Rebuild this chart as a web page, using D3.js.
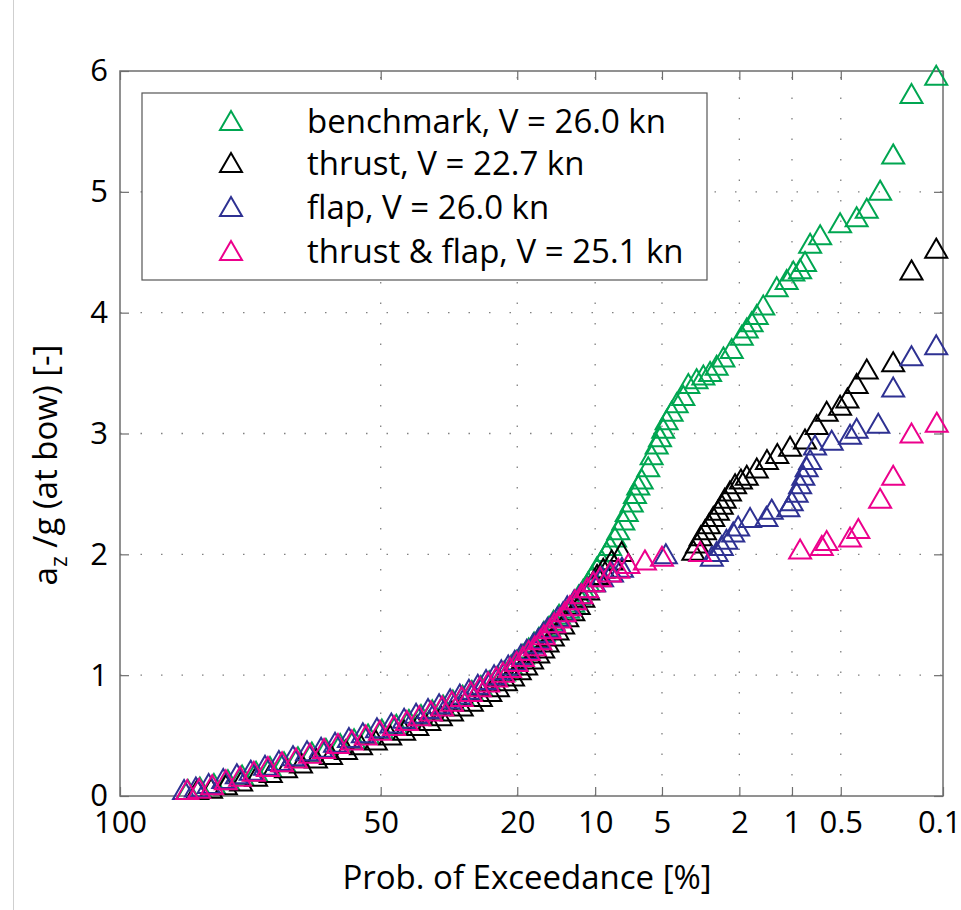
<!DOCTYPE html>
<html><head><meta charset="utf-8">
<script src="https://cdn.jsdelivr.net/npm/d3@7"></script>
<style>
body{margin:0;background:#fff;}
svg{display:block;}
text{font-family:"Open Sans",sans-serif;fill:#000;}
</style>
</head><body>
<svg id="c" width="961" height="910"></svg>
<script>
// ---------- data ----------
const probTicks = [100, 50, 20, 10, 5, 2, 1, 0.5, 0.1];
const probLabels = ["100", "50", "20", "10", "5", "2", "1", "0.5", "0.1"];
const yTicks = [0, 1, 2, 3, 4, 5, 6];
const seriesNames = ["benchmark, V = 26.0 kn", "thrust, V = 22.7 kn", "flap, V = 26.0 kn", "thrust & flap, V = 25.1 kn"];
const seriesColors = ["#00a651", "#000000", "#2e3192", "#ec008c"];

// [exceedance probability %, a_z/g]
const benchmark = [
 [95.4,0.05],[93.7,0.07],[91.4,0.10],[88.8,0.13],[85.9,0.17],[82.8,0.20],[79.5,0.24],[76.0,0.28],[72.4,0.32],[68.7,0.36],
 [64.9,0.39],[61.0,0.43],[57.2,0.47],[53.4,0.51],[49.7,0.55],[45.9,0.59],[42.7,0.63],[39.7,0.67],[37.0,0.71],[34.5,0.75],
 [32.3,0.79],[30.2,0.83],[28.3,0.87],[26.5,0.91],[24.9,0.95],[23.4,0.99],[22.2,1.03],[21.0,1.08],[20.1,1.12],[19.1,1.17],
 [18.2,1.22],[17.4,1.27],[16.7,1.31],[16.0,1.36],[15.3,1.40],[14.7,1.45],[14.0,1.50],
 [12.9,1.55],[12.3,1.60],[11.7,1.66],[11.2,1.71],[10.7,1.77],[10.3,1.82],[9.85,1.89],[9.38,1.95],[8.93,2.02],[8.64,2.07],
 [8.22,2.14],[7.95,2.20],[7.55,2.28],[7.29,2.35],[6.92,2.43],[6.69,2.50],[6.46,2.57],[6.23,2.62],[5.81,2.72],[5.60,2.82],
 [5.30,2.91],[5.11,2.97],[4.93,3.04],[4.75,3.11],[4.49,3.18],[4.24,3.25],[3.93,3.31],[3.71,3.41],[3.37,3.45],[3.11,3.48],
 [2.87,3.51],[2.65,3.56],[2.44,3.63],[2.20,3.70],[1.94,3.81],[1.82,3.87],[1.71,3.92],[1.60,3.98],[1.47,4.06],[1.23,4.21],
 [1.075,4.27],[0.982,4.34],[0.894,4.36],[0.835,4.42],[0.777,4.57],[0.674,4.64],[0.505,4.74],[0.395,4.79],[0.339,4.86],
 [0.276,5.01],[0.225,5.31],[0.168,5.81],[0.112,5.96]
];
const thrust = [
 [94.1,0.05],[91.9,0.06],[89.2,0.09],[86.1,0.12],[82.8,0.16],[79.3,0.19],[75.5,0.23],[71.6,0.27],[67.6,0.31],[63.5,0.34],
 [59.4,0.38],[55.3,0.42],[51.3,0.46],[47.5,0.50],[43.9,0.54],[40.6,0.58],[37.7,0.62],[35.0,0.66],[32.5,0.70],[30.4,0.74],
 [28.3,0.78],[26.5,0.82],[24.7,0.86],[23.3,0.90],[21.9,0.95],[20.7,0.99],[19.6,1.04],[18.6,1.08],[17.7,1.13],[16.8,1.18],
 [16.1,1.22],[15.5,1.27],[14.8,1.32],[14.2,1.37],[13.5,1.42],[13.0,1.48],[12.3,1.53],[11.7,1.58],[11.2,1.64],[10.7,1.70],
 [10.2,1.77],[9.82,1.83],[9.24,1.88],[8.50,1.95],[7.68,2.02],
 [3.50,2.03],[3.35,2.09],[3.21,2.15],[3.05,2.20],[2.91,2.25],[2.76,2.31],[2.61,2.36],[2.49,2.41],[2.40,2.46],[2.25,2.52],
 [2.11,2.58],[1.96,2.62],[1.82,2.65],[1.60,2.71],[1.40,2.78],[1.22,2.83],[1.026,2.89],[0.835,2.95],[0.708,3.07],[0.614,3.18],
 [0.505,3.23],[0.453,3.29],[0.395,3.41],[0.339,3.53],[0.225,3.59],[0.168,4.35],[0.112,4.53]
];
const flap = [
 [95.9,0.05],[94.3,0.07],[92.3,0.10],[89.7,0.14],[87.0,0.18],[84.0,0.21],[80.7,0.25],[77.3,0.29],[73.7,0.33],[70.0,0.37],
 [66.2,0.40],[62.4,0.44],[58.6,0.48],[54.8,0.52],[51.0,0.56],[47.2,0.60],[43.9,0.64],[40.9,0.68],[38.0,0.72],[35.4,0.76],
 [32.9,0.80],[30.8,0.84],[28.9,0.88],[27.1,0.92],[25.5,0.96],[24.0,1.00],[22.7,1.04],[21.5,1.08],[20.4,1.12],[19.4,1.17],
 [18.5,1.21],[17.5,1.26],[16.8,1.30],[16.1,1.35],[15.5,1.39],[14.8,1.43],[14.2,1.48],[13.5,1.52],[13.0,1.57],[12.2,1.62],
 [11.5,1.67],[10.8,1.72],[10.1,1.77],[9.35,1.81],[8.47,1.85],[7.66,1.89],[4.79,2.00],
 [2.81,1.98],[2.65,2.02],[2.49,2.07],[2.35,2.12],[2.16,2.18],[2.03,2.23],[1.745,2.30],[1.41,2.31],[1.315,2.37],[1.05,2.39],
 [1.004,2.44],[0.938,2.51],[0.894,2.58],[0.855,2.65],[0.816,2.72],[0.777,2.78],[0.725,2.90],[0.571,2.94],[0.436,2.99],
 [0.395,3.04],[0.284,3.08],[0.225,3.38],[0.168,3.64],[0.112,3.73]
];
const thrustFlap = [
 [95.5,0.05],[93.8,0.06],[91.7,0.09],[89.2,0.13],[86.3,0.16],[83.3,0.20],[80.0,0.24],[76.5,0.28],[72.9,0.31],[69.2,0.35],
 [65.4,0.39],[61.6,0.43],[57.8,0.46],[54.0,0.50],[50.2,0.54],[46.5,0.58],[43.2,0.62],[40.1,0.66],[37.3,0.70],[34.7,0.74],
 [32.5,0.78],[30.4,0.82],[28.5,0.86],[26.7,0.90],[25.1,0.94],[23.6,0.98],[22.4,1.02],[21.2,1.06],[20.1,1.11],[19.1,1.15],
 [18.2,1.20],[17.3,1.24],[16.5,1.29],[16.0,1.33],[15.2,1.38],[14.6,1.43],[13.9,1.47],[13.3,1.52],[12.7,1.57],[12.1,1.62],
 [11.4,1.67],[10.8,1.72],[10.2,1.77],[9.53,1.81],
 [8.64,1.85],[7.95,1.88],[7.17,1.92],[6.02,1.95],[5.0,1.98],[3.23,2.02],[0.894,2.04],[0.659,2.07],[0.614,2.11],[0.436,2.14],
 [0.385,2.21],[0.276,2.46],[0.225,2.65],[0.168,3.00],[0.111,3.09]
];
const allSeries = [benchmark, thrust, flap, thrustFlap];

// ---------- layout ----------
const W = 961, H = 910, L = 120, R = 943, T = 71, B = 796;
const axisGray = "#6e6e6e";
const fsTick = 31, fsTitle = 33;

// Rayleigh probability paper: position = sqrt(-ln(p))
const tr = p => Math.sqrt(-Math.log(p / 100));
const x = d3.scaleLinear().domain([0, tr(0.1)]).range([L, R]);
const y = d3.scaleLinear().domain([0, 6]).range([B, T]);
const px = p => x(tr(p));

const svg = d3.select("#c");
svg.append("rect").attr("width", W).attr("height", H).attr("fill", "#fff");
svg.append("line").attr("x1", 13.5).attr("x2", 13.5).attr("y1", 0).attr("y2", H)
  .attr("stroke", "#cfcfcf").attr("stroke-width", 1);

// grid
const grid = svg.append("g");
grid.selectAll("line.v").data(probTicks.slice(1, -1)).join("line").attr("class", "v")
  .attr("x1", d => px(d)).attr("x2", d => px(d)).attr("y1", B).attr("y2", T)
  .attr("stroke", "#808080").attr("stroke-width", 1.3).attr("stroke-dasharray", "1.5,19");
grid.selectAll("line.h").data(yTicks.slice(1, -1)).join("line").attr("class", "h")
  .attr("x1", L).attr("x2", R).attr("y1", d => y(d)).attr("y2", d => y(d))
  .attr("stroke", "#808080").attr("stroke-width", 1.3).attr("stroke-dasharray", "1.5,19");

// axes
const xv = probTicks.map(tr);
const styleAxis = g => {
  g.select(".domain").remove();
  g.selectAll(".tick line").attr("stroke", axisGray).attr("stroke-width", 1.2);
  g.selectAll(".tick text").attr("font-size", fsTick).attr("font-family", "'Open Sans',sans-serif").attr("fill", "#000");
};
const gx = svg.append("g").attr("transform", `translate(0,${B})`)
  .call(d3.axisBottom(x).tickValues(xv).tickFormat((d, i) => probLabels[i]).tickSizeInner(-9).tickSizeOuter(0).tickPadding(15))
  .call(styleAxis);
gx.selectAll(".tick text").filter((d, i) => i === probLabels.length - 1).attr("text-anchor", "end").attr("dx", 18);
svg.append("g").attr("transform", `translate(0,${T})`)
  .call(d3.axisTop(x).tickValues(xv).tickFormat("").tickSizeInner(-9).tickSizeOuter(0))
  .call(styleAxis);
svg.append("g").attr("transform", `translate(${L},0)`)
  .call(d3.axisLeft(y).tickValues(yTicks).tickFormat(d3.format("d")).tickSizeInner(-9).tickSizeOuter(0).tickPadding(12))
  .call(styleAxis);
svg.append("g").attr("transform", `translate(${R},0)`)
  .call(d3.axisRight(y).tickValues(yTicks).tickFormat("").tickSizeInner(-9).tickSizeOuter(0))
  .call(styleAxis);

svg.append("rect").attr("x", L).attr("y", T).attr("width", R - L).attr("height", B - T)
  .attr("fill", "none").attr("stroke", axisGray).attr("stroke-width", 1.5);

// axis titles
svg.append("text").attr("x", 527).attr("y", 889).attr("text-anchor", "middle")
  .attr("font-size", fsTitle).text("Prob. of Exceedance [%]");
const yt = svg.append("text").attr("transform", "translate(57,465) rotate(-90)")
  .attr("text-anchor", "middle").attr("font-size", fsTitle);
yt.append("tspan").text("a");
yt.append("tspan").attr("dy", 10).attr("font-size", 23).text("z");
yt.append("tspan").attr("dy", -10).text(" /g (at bow) [-]");

// markers
const tri = "M0,-10L11,9L-11,9Z";
allSeries.forEach((s, i) => {
  svg.append("g").selectAll("path").data(s).join("path")
    .attr("d", tri)
    .attr("transform", d => `translate(${px(d[0])},${y(d[1])})`)
    .attr("fill", "none").attr("stroke", seriesColors[i]).attr("stroke-width", 2);
});

// legend
const lg = svg.append("g");
lg.append("rect").attr("x", 142).attr("y", 93).attr("width", 565).attr("height", 187)
  .attr("fill", "#fff").attr("stroke", "#555").attr("stroke-width", 1.2);
const rowY = [121, 163, 207, 251];
seriesNames.forEach((n, i) => {
  lg.append("path").attr("d", tri).attr("transform", `translate(231,${rowY[i]})`)
    .attr("fill", "none").attr("stroke", seriesColors[i]).attr("stroke-width", 2);
  lg.append("text").attr("x", 307).attr("y", rowY[i] + 12).attr("font-size", fsTitle).text(n);
});
</script>
</body></html>
